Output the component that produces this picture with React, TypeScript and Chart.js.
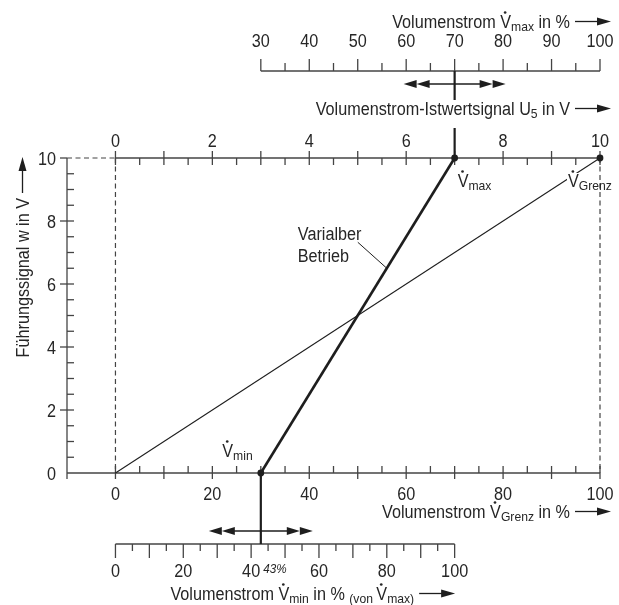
import React, { useEffect, useRef } from 'react';
import { Chart, registerables } from 'chart.js';
Chart.register(...registerables);

// ---------- data ----------
const xMin = -10; // left end of the main x axis (V̇Grenz in %)
const xMax = 100;
const wMin = 0;
const wMax = 10; // Führungssignal w in V
const vminPct = 30; // V̇min in % of V̇Grenz
const vmaxPct = 70; // V̇max in % of V̇Grenz
const grenzPct = 100;

const variableX = [30, 70];
const variableY = [0, 10];
const grenzX = [0, 100];
const grenzY = [0, 10];

const yTickLabels = [0, 2, 4, 6, 8, 10];
const grenzTickLabels = [0, 20, 40, 60, 80, 100];
const u5TickLabels = [0, 2, 4, 6, 8, 10];
const vmaxTickLabels = [30, 40, 50, 60, 70, 80, 90, 100];
const vminTickLabels = [0, 20, 40, 60, 80, 100];

// ---------- style ----------
const W = 619;
const H = 605;
const FONT = '"Liberation Sans", Arial, Helvetica, sans-serif';
const SX = 0.9;
const TEXT = '#262626';
const AXIS = '#444444';
const INK = '#1e1e1e';
const BASE = 18;
const SUB = 13.5;

type Run = { t: string; s?: number; dy?: number; it?: boolean; dot?: boolean; bg?: boolean };

function runFont(r: Run) {
  return `${r.it ? 'italic ' : ''}${r.s ?? BASE}px ${FONT}`;
}

function drawRuns(ctx: CanvasRenderingContext2D, runs: Run[], x: number, y: number, align: 'left' | 'right' | 'center') {
  let w = 0;
  for (const r of runs) {
    ctx.font = runFont(r);
    w += ctx.measureText(r.t).width * SX;
  }
  let cx = align === 'left' ? x : align === 'right' ? x - w : x - w / 2;
  ctx.textAlign = 'left';
  ctx.textBaseline = 'alphabetic';
  for (const r of runs) {
    const size = r.s ?? BASE;
    ctx.font = runFont(r);
    const rw = ctx.measureText(r.t).width * SX;
    const ry = y + (r.dy ?? 0);
    if (r.bg) {
      ctx.fillStyle = '#fff';
      ctx.fillRect(cx - 1, ry - size * 0.78, rw + 2, size * 0.8);
    }
    ctx.fillStyle = TEXT;
    ctx.save();
    ctx.translate(cx, ry);
    ctx.scale(SX, 1);
    ctx.fillText(r.t, 0, 0);
    ctx.restore();
    if (r.dot) {
      ctx.beginPath();
      ctx.arc(cx + rw / 2 - 0.5, ry - size * 0.716 - 2.6, size * 0.075, 0, Math.PI * 2);
      ctx.fill();
    }
    cx += rw;
  }
  return w;
}

function seg(ctx: CanvasRenderingContext2D, x1: number, y1: number, x2: number, y2: number) {
  ctx.beginPath();
  ctx.moveTo(x1, y1);
  ctx.lineTo(x2, y2);
  ctx.stroke();
}

function head(ctx: CanvasRenderingContext2D, tx: number, ty: number, dir: number, len = 13, half = 4) {
  ctx.beginPath();
  ctx.moveTo(tx, ty);
  ctx.lineTo(tx - dir * len, ty - half);
  ctx.lineTo(tx - dir * len, ty + half);
  ctx.closePath();
  ctx.fill();
}

// title text followed by "——▶"
function titleArrow(ctx: CanvasRenderingContext2D, runs: Run[], tipX: number, baseline: number) {
  const ay = baseline - 6.5;
  ctx.strokeStyle = INK;
  ctx.fillStyle = INK;
  ctx.lineWidth = 1.3;
  seg(ctx, tipX - 36, ay, tipX - 10, ay);
  head(ctx, tipX, ay, 1, 14, 4);
  drawRuns(ctx, runs, tipX - 41, baseline, 'right');
}

function dblArrow(ctx: CanvasRenderingContext2D, cx: number, y: number, half: number) {
  ctx.strokeStyle = INK;
  ctx.fillStyle = INK;
  ctx.lineWidth = 1.3;
  seg(ctx, cx - half + 20, y, cx + half - 20, y);
  for (const d of [-1, 1]) {
    const tip = cx + d * half;
    head(ctx, tip, y, d, 13, 4);
    head(ctx, tip - d * 13, y, d, 13, 4);
  }
}

const decor = {
  id: 'decor',
  beforeDatasetsDraw(chart: any) {
    const { ctx } = chart;
    const xs = chart.scales.x;
    const ys = chart.scales.y;
    const px = (v: number) => xs.getPixelForValue(v);
    const py = (v: number) => ys.getPixelForValue(v);
    const vminX = (p: number) => px((p * vmaxPct) / 100);
    const yTop = py(wMax);
    const yBot = py(wMin);
    const vmaxAxisY = 71;
    const vminAxisY = 544;

    ctx.save();
    ctx.lineCap = 'butt';

    // dashed guide lines
    ctx.strokeStyle = AXIS;
    ctx.lineWidth = 1.2;
    ctx.setLineDash([5, 3.5]);
    seg(ctx, px(xMin), yTop, px(0), yTop);
    seg(ctx, px(0), yTop, px(0), yBot);
    seg(ctx, px(grenzPct), yTop, px(grenzPct), yBot);
    ctx.setLineDash([]);

    ctx.lineWidth = 1.3;
    // y axis (Führungssignal)
    seg(ctx, px(xMin), yTop, px(xMin), yBot + 6);
    for (let i = 0; i <= 20; i++) {
      const v = i * 0.5;
      const major = yTickLabels.includes(v);
      if (v === wMin) continue;
      seg(ctx, px(xMin) - (major ? 7 : 0), py(v), px(xMin) + (v === wMax ? 0 : 7), py(v));
    }
    // bottom x axis (V̇Grenz)
    seg(ctx, px(xMin), yBot, px(xMax), yBot);
    for (let i = 0; i <= 20; i++) {
      const v = i * 5;
      const major = v % 10 === 0;
      seg(ctx, px(v), yBot - 7, px(v), yBot + (major ? 6 : 0));
    }
    // top axis (U5)
    seg(ctx, px(0), yTop, px(xMax), yTop);
    for (let i = 0; i <= 20; i++) {
      const u = i * 0.5;
      const major = Number.isInteger(u);
      seg(ctx, px(u * 10), yTop - (major ? 7 : 0), px(u * 10), yTop + 7);
    }
    // V̇max axis
    seg(ctx, px(vmaxTickLabels[0]), vmaxAxisY, px(xMax), vmaxAxisY);
    for (let v = vmaxTickLabels[0]; v <= 100; v += 5) {
      const major = v % 10 === 0;
      seg(ctx, px(v), vmaxAxisY, px(v), vmaxAxisY - (major ? 12 : 8));
    }
    // V̇min axis
    seg(ctx, vminX(0), vminAxisY, vminX(100), vminAxisY);
    for (let v = 0; v <= 100; v += 5) {
      const major = v % 10 === 0;
      seg(ctx, vminX(v), vminAxisY, vminX(v), vminAxisY + (major ? 14 : 7));
    }

    // vertical connectors
    ctx.strokeStyle = INK;
    ctx.lineWidth = 2.2;
    seg(ctx, px(vmaxPct), vmaxAxisY, px(vmaxPct), 100);
    seg(ctx, px(vmaxPct), 128, px(vmaxPct), yTop);
    seg(ctx, px(vminPct), yBot, px(vminPct), vminAxisY);

    // double arrows
    dblArrow(ctx, px(vmaxPct), 84, 51);
    dblArrow(ctx, px(vminPct), 531, 52);

    // tick labels
    for (const v of yTickLabels) drawRuns(ctx, [{ t: String(v) }], px(xMin) - 11, py(v) + 6.5, 'right');
    for (const v of grenzTickLabels) drawRuns(ctx, [{ t: String(v) }], px(v), 500, 'center');
    for (const u of u5TickLabels) drawRuns(ctx, [{ t: String(u) }], px(u * 10), 147, 'center');
    for (const v of vmaxTickLabels) drawRuns(ctx, [{ t: String(v) }], px(v), 47, 'center');
    for (const v of vminTickLabels) drawRuns(ctx, [{ t: String(v) }], vminX(v), 577, 'center');
    const pct = Math.round((vminPct / vmaxPct) * 100);
    drawRuns(ctx, [{ t: `${pct}%`, s: 13, it: true }], px(vminPct) + 2.5, 573, 'left');

    ctx.restore();
  },
  afterDatasetsDraw(chart: any) {
    const { ctx } = chart;
    const xs = chart.scales.x;
    const ys = chart.scales.y;
    const px = (v: number) => xs.getPixelForValue(v);
    const py = (v: number) => ys.getPixelForValue(v);
    ctx.save();

    // titles
    titleArrow(ctx, [{ t: 'Volumenstrom ' }, { t: 'V', dot: true }, { t: 'max', s: SUB, dy: 2.5 }, { t: ' in %' }], 611, 28);
    titleArrow(ctx, [{ t: 'Volumenstrom-Istwertsignal U' }, { t: '5', s: SUB, dy: 2.5 }, { t: ' in V' }], 611, 115);
    titleArrow(ctx, [{ t: 'Volumenstrom ' }, { t: 'V', dot: true }, { t: 'Grenz', s: SUB, dy: 2.5 }, { t: ' in %' }], 611, 518);
    titleArrow(
      ctx,
      [
        { t: 'Volumenstrom ' },
        { t: 'V', dot: true },
        { t: 'min', s: SUB, dy: 2.5 },
        { t: ' in % ' },
        { t: '(von ', s: SUB, dy: 2.5 },
        { t: 'V', dot: true },
        { t: 'max)', s: SUB, dy: 2.5 },
      ],
      px(vmaxPct) + 0.5,
      600
    );
    ctx.save();
    ctx.translate(29, 0);
    ctx.rotate(-Math.PI / 2);
    titleArrow(ctx, [{ t: 'Führungssignal w in V' }], -157, 0);
    ctx.restore();

    // point labels
    drawRuns(ctx, [{ t: 'V', dot: true }, { t: 'max', s: SUB, dy: 2.5 }], px(vmaxPct) + 3, py(wMax) + 29, 'left');
    drawRuns(ctx, [{ t: 'V', dot: true, bg: true }, { t: 'Grenz', s: SUB, dy: 2.5 }], px(grenzPct) - 32, py(wMax) + 29, 'left');
    drawRuns(ctx, [{ t: 'V', dot: true }, { t: 'min', s: SUB, dy: 2.5 }], px(vminPct) - 38.5, py(wMin) - 16, 'left');

    // "Varialber Betrieb" leader
    const lw = 6.5;
    const lx = variableX[0] + ((lw - variableY[0]) / (variableY[1] - variableY[0])) * (variableX[1] - variableX[0]);
    const ex = px(lx);
    const ey = py(lw);
    const sx = ex - 29;
    const sy = ey - 26;
    ctx.strokeStyle = INK;
    ctx.lineWidth = 1;
    seg(ctx, sx, sy, ex, ey);
    drawRuns(ctx, [{ t: 'Varialber' }], sx - 60, sy - 2, 'left');
    drawRuns(ctx, [{ t: 'Betrieb' }], sx - 60, sy + 20, 'left');

    ctx.restore();
  },
};

export default function App() {
  const ref = useRef<HTMLCanvasElement>(null);
  useEffect(() => {
    const chart = new Chart(ref.current!, {
      type: 'scatter',
      data: {
        datasets: [
          {
            data: grenzX.map((x, i) => ({ x, y: grenzY[i] })),
            showLine: true,
            borderColor: INK,
            borderWidth: 1.1,
            pointRadius: [0, 3.4],
            pointBackgroundColor: INK,
            pointBorderWidth: 0,
            clip: false,
          } as any,
          {
            data: variableX.map((x, i) => ({ x, y: variableY[i] })),
            showLine: true,
            borderColor: INK,
            borderWidth: 2.6,
            pointRadius: 3.4,
            pointBackgroundColor: INK,
            pointBorderWidth: 0,
            clip: false,
          } as any,
        ],
      },
      options: {
        animation: false,
        responsive: false,
        maintainAspectRatio: false,
        layout: { padding: { left: 67, right: 19, top: 158, bottom: 132 } },
        scales: {
          x: { type: 'linear', min: xMin, max: xMax, display: false },
          y: { type: 'linear', min: wMin, max: wMax, display: false },
        },
        plugins: { legend: { display: false }, tooltip: { enabled: false } },
        events: [],
      },
      plugins: [decor],
    });
    return () => chart.destroy();
  }, []);
  return (
    <div style={{ position: 'fixed', left: 0, top: 0, width: W, height: H, background: '#fff' }}>
      <canvas ref={ref} width={W} height={H} style={{ display: 'block', width: W, height: H }} />
    </div>
  );
}
